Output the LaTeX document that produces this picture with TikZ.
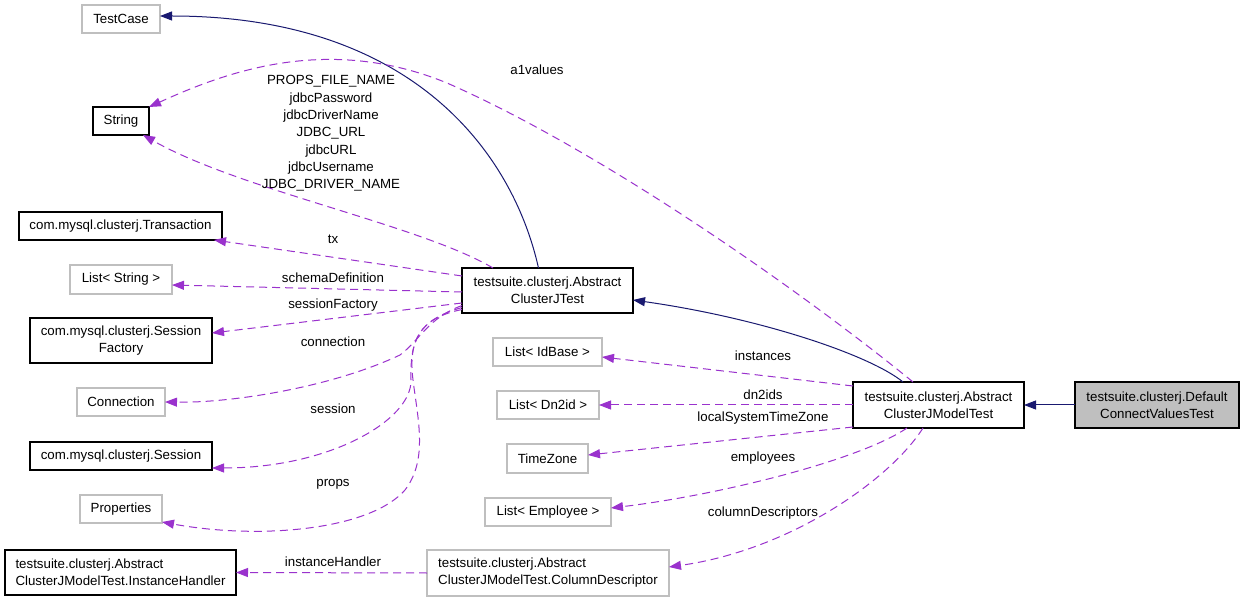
\documentclass[tikz,border=0pt]{standalone}
\usepackage{fontspec}
\setmainfont{Liberation Sans}
\usetikzlibrary{arrows.meta}
\definecolor{dorchid}{HTML}{9A32CD}
\definecolor{mnblue}{HTML}{191970}
\definecolor{greyBox}{HTML}{BFBFBF}
\begin{document}
\begin{tikzpicture}[x=1pt,y=-1pt,
  every node/.style={font=\fontsize{13.3}{17}\selectfont, inner sep=0pt, outer sep=0pt},
  blk/.style={draw=black, line width=1.1pt},
  gry/.style={draw=greyBox, line width=1.1pt},
  lbl/.style={text=black, text height=9.5pt, text depth=2.8pt},
  inh/.style={draw=mnblue, line width=1pt, -{Triangle[length=12pt,width=9pt]}},
  use/.style={draw=dorchid, line width=1pt, dash pattern=on 8pt off 5pt, -{Triangle[length=12pt,width=9pt]}}
 ]
\fill[white] (0,0) rectangle (1245,601);
\useasboundingbox (0,0) rectangle (1245,601);

% left column
\node[gry, minimum width=78pt, minimum height=28pt] (testcase) at (121,19) {TestCase};
\node[blk, minimum width=56pt, minimum height=28pt] (string) at (121,121) {String};
\node[blk, minimum width=203pt, minimum height=28pt] (trans) at (120.5,226) {com.mysql.clusterj.Transaction};
\node[gry, minimum width=102pt, minimum height=29pt] (liststr) at (121,279.5) {List< String >};
\node[blk, minimum width=182pt, minimum height=45pt, align=center] (sessfac) at (121,340.5) {com.mysql.clusterj.Session\\Factory};
\node[gry, minimum width=88pt, minimum height=28pt] (conn) at (121,402) {Connection};
\node[blk, minimum width=182pt, minimum height=28pt] (session) at (121,456) {com.mysql.clusterj.Session};
\node[gry, minimum width=82pt, minimum height=28pt] (props) at (121,509) {Properties};
\node[blk, minimum width=231pt, minimum height=45pt, align=left] (insth) at (120.5,572.5) {testsuite.clusterj.Abstract\\ClusterJModelTest.InstanceHandler};

% middle column
\node[blk, minimum width=171pt, minimum height=45pt, align=center] (acjt) at (547.5,290.5) {testsuite.clusterj.Abstract\\ClusterJTest};
\node[gry, minimum width=109pt, minimum height=28pt] (idbase) at (547.5,352) {List< IdBase >};
\node[gry, minimum width=102pt, minimum height=28pt] (dn2id) at (548,405) {List< Dn2id >};
\node[gry, minimum width=81pt, minimum height=29pt] (tz) at (547.5,458.5) {TimeZone};
\node[gry, minimum width=126pt, minimum height=28pt] (emp) at (548,512) {List< Employee >};
\node[gry, minimum width=242pt, minimum height=46pt, align=left] (coldesc) at (548,573) {testsuite.clusterj.Abstract\\ClusterJModelTest.ColumnDescriptor};

% right
\node[blk, minimum width=171pt, minimum height=46pt, align=center] (acjmt) at (938.5,405) {testsuite.clusterj.Abstract\\ClusterJModelTest};
\node[blk, fill=greyBox, minimum width=164pt, minimum height=46pt, align=center] (dcvt) at (1157,405) {testsuite.clusterj.Default\\ConnectValuesTest};

% inheritance
\draw[inh] ([xshift=-9pt]acjt.north) .. controls (512,150) and (410,16) .. ([yshift=3pt]testcase.east);
\draw[inh] ([xshift=-35.5pt]acjmt.north) .. controls (870,355) and (760,318) .. ([yshift=-9.5pt]acjt.east);
\draw[inh] (dcvt.west) -- (acjmt.east);

% usage from ACJMT
\draw[use] ([xshift=-25.5pt]acjmt.north) .. controls (800,290) and (600,150) .. (447,83) .. controls (330,35) and (230,70) .. (string.north east);
\draw[use] ([yshift=-4pt]acjmt.north west) -- ([yshift=-5pt]idbase.east);
\draw[use] (acjmt.west) -- (dn2id.east);
\draw[use] ([yshift=-22pt]acjmt.west) -- ([yshift=3.5pt]tz.east);
\draw[use] ([xshift=-31.5pt]acjmt.south) .. controls (860,460) and (720,495) .. ([yshift=4pt]emp.east);
\draw[use] ([xshift=-15.5pt]acjmt.south) .. controls (890,480) and (790,550) .. ([yshift=6pt]coldesc.east);
\draw[use] (coldesc.west) -- (insth.east);

% usage from ACJT
\draw[use] ([xshift=-54.5pt]acjt.north) .. controls (420,225) and (240,190) .. ([xshift=-6pt]string.south east);
\draw[use] ([yshift=14.5pt]acjt.west) -- ([xshift=-8pt]trans.south east);
\draw[use] ([yshift=-1.5pt]acjt.west) -- ([yshift=-5.5pt]liststr.east);
\draw[use] ([yshift=-12.5pt]acjt.west) -- ([yshift=7.5pt]sessfac.east);
\draw[use] ([yshift=-15pt]acjt.west) .. controls (428,318) and (420,340) .. (400,355) .. controls (330,388) and (230,403) .. (conn.east);
\draw[use] ([yshift=-17pt]acjt.west) .. controls (418,320) and (410,340) .. (411,380) .. controls (412,420) and (330,468) .. ([yshift=-12pt]session.east);
\draw[use] ([yshift=-19pt]acjt.west) .. controls (420,318) and (408,340) .. (413,380) .. controls (418,420) and (428,460) .. (405,490) .. controls (370,530) and (260,540) .. ([yshift=-13pt]props.east);

% labels
\node[lbl] (la1) at (537,71) {a1values};
\node[align=center, font=\fontsize{13.3}{17.33}\selectfont] (lstr) at (331,133.5) {PROPS\_FILE\_NAME\\jdbcPassword\\jdbcDriverName\\JDBC\_URL\\jdbcURL\\jdbcUsername\\JDBC\_DRIVER\_NAME};
\node[lbl] (ltx) at (333,240) {tx};
\node[lbl] (lsd) at (333,279) {schemaDefinition};
\node[lbl] (lsf) at (333,305) {sessionFactory};
\node[lbl] (lcon) at (333,343) {connection};
\node[lbl] (lses) at (333,410) {session};
\node[lbl] (lpr) at (333,483) {props};
\node[lbl] (lih) at (333,563) {instanceHandler};
\node[lbl] (lin) at (763,357) {instances};
\node[lbl] (ldn) at (763,396) {dn2ids};
\node[lbl] (ltz) at (763,418) {localSystemTimeZone};
\node[lbl] (lem) at (763,458) {employees};
\node[lbl] (lcd) at (763,513) {columnDescriptors};
\end{tikzpicture}
\end{document}
